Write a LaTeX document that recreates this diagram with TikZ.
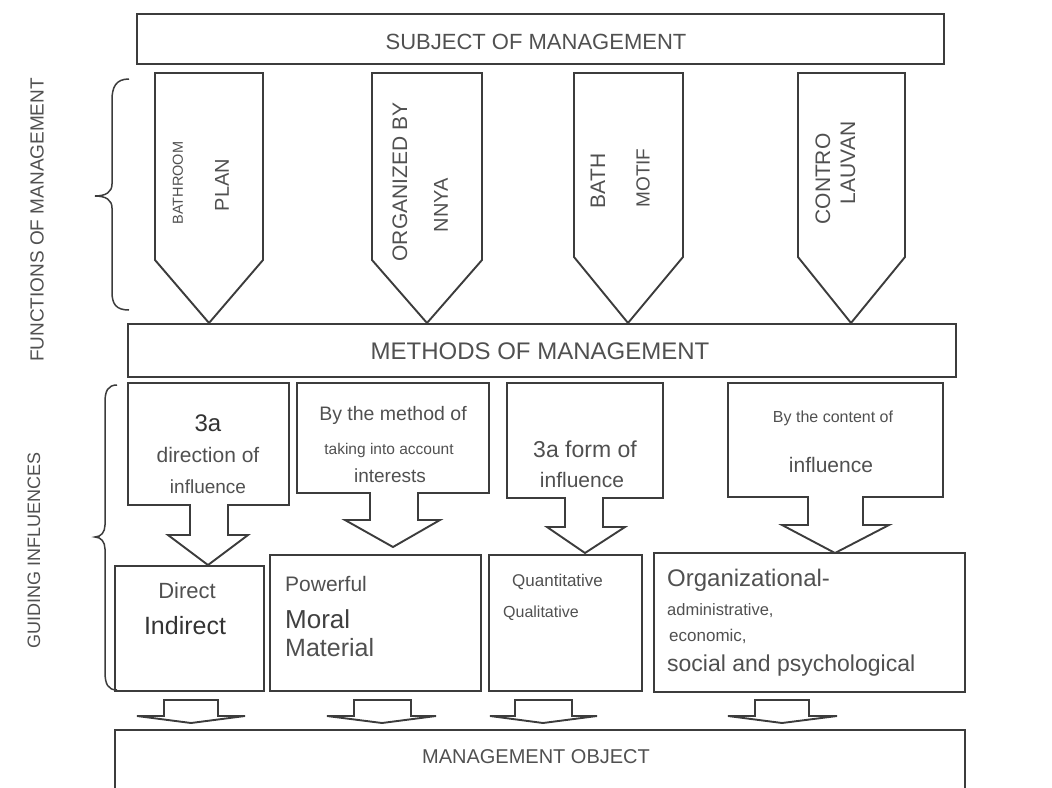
\documentclass[tikz,border=0pt]{standalone}
\usepackage{fontspec}
\setmainfont{Liberation Sans}
\usetikzlibrary{fit}
\definecolor{linecol}{HTML}{3C3C3C}
\definecolor{txtcol}{HTML}{505050}
\newcommand\fz[1]{\fontsize{#1}{#1}\selectfont}
\begin{document}
\begin{tikzpicture}[x=1pt,y=-1pt,
  frame/.style={draw=linecol,line width=1.9pt,line join=miter},
  boxnode/.style={frame,inner sep=0pt,outer sep=0pt},
  lbl/.style={text=txtcol,inner sep=0pt},
  bracepath/.style={draw=linecol,line width=1.5pt}]
\useasboundingbox (0,0) rectangle (1052,787);
\clip (0,0) rectangle (1052,787);

% ---------- main bars ----------
\node[boxnode,fit={(137,14) (944,64)}] (subject) {};
\node[lbl,font=\fz{22}] (subjecttxt) at (536,42) {SUBJECT OF MANAGEMENT};

\node[boxnode,fit={(128,324) (956,377)}] (methods) {};
\node[lbl,font=\fz{24}] (methodstxt) at (540,351) {METHODS OF MANAGEMENT};

\node[boxnode,fit={(115,730) (965,792)}] (object) {};
\node[lbl,font=\fz{20}] (objecttxt) at (536,757) {MANAGEMENT OBJECT};

% ---------- functions of management (pentagon arrows) ----------
\draw[frame] (155,73) -- (263,73) -- (263,260) -- (209,323) -- (155,260) -- cycle;
\draw[frame] (372,73) -- (482,73) -- (482,260) -- (427,323) -- (372,260) -- cycle;
\draw[frame] (574,73) -- (683,73) -- (683,257) -- (628,323) -- (574,257) -- cycle;
\draw[frame] (798,73) -- (905,73) -- (905,257) -- (851,323) -- (798,257) -- cycle;

\node[lbl,rotate=90,font=\fz{14.5}] (f1a) at (178,183) {BATHROOM};
\node[lbl,rotate=90,font=\fz{20}] (f1b) at (222,185) {PLAN};
\node[lbl,rotate=90,font=\fz{21}] (f2a) at (400,182) {ORGANIZED BY};
\node[lbl,rotate=90,font=\fz{20}] (f2b) at (441,205) {NNYA};
\node[lbl,rotate=90,font=\fz{21}] (f3a) at (598,181) {BATH};
\node[lbl,rotate=90,font=\fz{19}] (f3b) at (643,178) {MOTIF};
\node[lbl,rotate=90,font=\fz{21}] (f4a) at (823,179) {CONTRO};
\node[lbl,rotate=90,font=\fz{21}] (f4b) at (848,163) {LAUVAN};

% ---------- side labels and braces ----------
\node[lbl,rotate=90,font=\fz{19}] (funclbl) at (37,220) {FUNCTIONS OF MANAGEMENT};
\node[lbl,rotate=90,font=\fz{18}] (guidelbl) at (34,550) {GUIDING INFLUENCES};

\draw[bracepath] (129,79) .. controls (116,79) and (112,87) .. (112,100)
  -- (112,184) .. controls (112,192) and (106,196) .. (95,196)
  .. controls (106,196) and (112,200) .. (112,208)
  -- (112,292) .. controls (112,304) and (116,310) .. (129,310);

\draw[bracepath] (117,385) .. controls (108,385) and (105,391) .. (105,402)
  -- (105,525) .. controls (105,532) and (101,537) .. (95,537)
  .. controls (101,537) and (105,542) .. (105,549)
  -- (105,672) .. controls (105,684) and (108,690) .. (117,690);

% ---------- criteria boxes with arrows ----------
\draw[frame] (128,383) -- (289,383) -- (289,505) -- (228,505) -- (228,535) -- (248,535)
  -- (208,565) -- (168,535) -- (190,535) -- (190,505) -- (128,505) -- cycle;
\draw[frame] (297,383) -- (489,383) -- (489,493) -- (418,493) -- (418,520) -- (440,520)
  -- (393,547) -- (345,520) -- (370,520) -- (370,493) -- (297,493) -- cycle;
\draw[frame] (507,383) -- (663,383) -- (663,498) -- (603,498) -- (603,527) -- (625,527)
  -- (585,553) -- (547,527) -- (565,527) -- (565,498) -- (507,498) -- cycle;
\draw[frame] (728,383) -- (943,383) -- (943,497) -- (863,497) -- (863,525) -- (889,525)
  -- (835,553) -- (782,525) -- (808,525) -- (808,497) -- (728,497) -- cycle;

\node[lbl,font=\fz{24},text=black!80] (c1a) at (208,423) {3a};
\node[lbl,font=\fz{21}] (c1b) at (208,455) {direction of};
\node[lbl,font=\fz{19}] (c1c) at (208,487) {influence};

\node[lbl,font=\fz{19.5}] (c2a) at (393,415) {By the method of};
\node[lbl,font=\fz{15.5}] (c2b) at (389,450) {taking into account};
\node[lbl,font=\fz{19}] (c2c) at (390,476) {interests};

\node[lbl,font=\fz{23}] (c3a) at (585,449) {3a form of};
\node[lbl,font=\fz{21}] (c3b) at (582,480) {influence};

\node[lbl,font=\fz{16}] (c4a) at (833,418) {By the content of};
\node[lbl,font=\fz{21}] (c4b) at (831,465) {influence};

% ---------- kinds of methods ----------
\node[boxnode,fit={(115,566) (264,691)}] (k1) {};
\node[boxnode,fit={(270,555) (481,691)}] (k2) {};
\node[boxnode,fit={(489,555) (642,691)}] (k3) {};
\node[boxnode,fit={(654,553) (965,692)}] (k4) {};

\node[lbl,font=\fz{22}] (k1a) at (187,591) {Direct};
\node[lbl,font=\fz{25},text=black!80] (k1b) at (185,626) {Indirect};

\node[lbl,font=\fz{21},anchor=west] (k2a) at (285,584) {Powerful};
\node[lbl,font=\fz{26},anchor=west,text=black!75] (k2b) at (285,619) {Moral};
\node[lbl,font=\fz{25},anchor=west] (k2c) at (285,648) {Material};

\node[lbl,font=\fz{17},anchor=west] (k3a) at (512,582) {Quantitative};
\node[lbl,font=\fz{16},anchor=west] (k3b) at (503,613) {Qualitative};

\node[lbl,font=\fz{24},anchor=west] (k4a) at (667,580) {Organizational-};
\node[lbl,font=\fz{16.5},anchor=west] (k4b) at (667,611) {administrative,};
\node[lbl,font=\fz{17},anchor=west] (k4c) at (669,636) {economic,};
\node[lbl,font=\fz{23},anchor=west] (k4d) at (667,666) {social and psychological};

% ---------- arrows down to the object ----------
\draw[frame] (164,700) -- (218,700) -- (218,716) -- (245,716) -- (191,723) -- (137,716) -- (164,716) -- cycle;
\draw[frame] (354,700) -- (411,700) -- (411,716) -- (436,716) -- (382,723) -- (327,716) -- (354,716) -- cycle;
\draw[frame] (515,700) -- (572,700) -- (572,716) -- (597,716) -- (543,723) -- (490,716) -- (515,716) -- cycle;
\draw[frame] (755,700) -- (809,700) -- (809,716) -- (837,716) -- (782,723) -- (728,716) -- (755,716) -- cycle;
\end{tikzpicture}
\end{document}
